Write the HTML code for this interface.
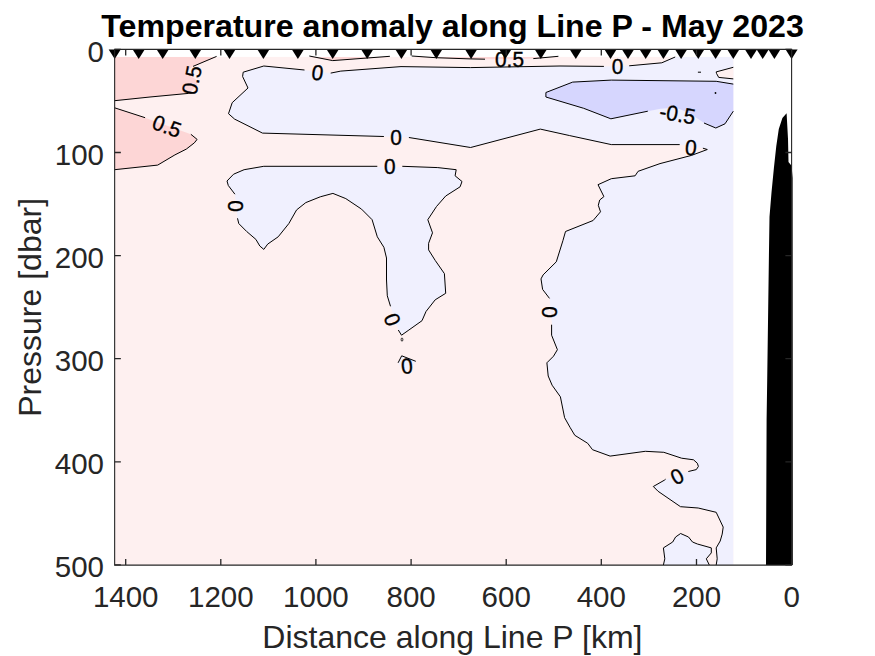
<!DOCTYPE html>
<html><head><meta charset="utf-8"><style>
html,body{margin:0;padding:0;background:#fff;overflow:hidden}
svg{display:block}
text{font-family:"Liberation Sans",sans-serif}
.tk{font-size:29.5px;fill:#262626}
.lab{font-size:32px;fill:#262626}
.ttl{font-size:32.15px;font-weight:bold;fill:#000}
.cl{font-size:21.5px;fill:#000;stroke:#000;stroke-width:0.35px;text-anchor:middle;dominant-baseline:central}
</style></head><body>
<svg width="875" height="656" viewBox="0 0 875 656">
<rect width="875" height="656" fill="#fff"/>
<rect x="114.6" y="56.9" width="618.7" height="508.1" fill="#FEF0F0"/>
<polygon points="398.1,362.8 401.7,355.8 415.8,361.3 411.0,369.0 402.0,370.0" fill="#F0F0FE"/>
<polygon points="114.6,56.9 216.6,56.9 193.0,66.4 184.7,72.4 195.7,79.2 197.5,85.2 188.4,93.4 150.0,97.0 114.6,100.7" fill="#FDD6D6"/>
<polygon points="114.6,107.8 145.1,117.7 190.9,134.3 197.1,139.4 194.3,142.9 186.3,149.1 174.9,154.9 157.7,165.1 114.6,169.7" fill="#FDD6D6"/>
<polygon points="309.3,56.9 332.7,60.6 389.9,56.9" fill="#FDD6D6"/>
<polygon points="411.7,56.9 435.7,57.7 470.0,58.9 485.0,59.2 510.0,59.2 533.3,58.6 558.4,56.9" fill="#FDD6D6"/>
<polygon points="263.8,66.0 304.5,70.0 317.0,72.0 330.7,73.1 340.8,71.1 401.0,66.6 470.4,67.6 560.0,66.0 603.9,66.4 629.2,65.8 661.8,62.8 675.2,56.9 733.3,56.9 733.3,565.0 716.2,565.0 717.2,558.8 716.2,547.9 720.2,541.0 722.2,534.1 723.2,527.1 716.2,512.3 698.2,508.0 680.5,506.7 658.1,491.3 653.3,486.5 664.5,480.1 688.3,471.5 696.3,469.6 698.4,466.4 697.3,463.2 693.5,459.8 681.6,458.2 663.8,452.3 645.3,451.3 610.1,456.1 592.5,449.7 587.7,443.3 574.8,435.3 570.0,427.3 564.6,417.7 560.4,396.8 552.1,385.2 548.2,376.0 546.9,362.8 553.5,356.2 557.4,349.7 551.6,335.2 552.1,324.7 549.5,298.4 542.6,289.4 541.0,278.9 543.1,274.9 556.3,261.8 562.9,240.7 565.5,231.5 593.1,220.5 600.5,211.8 598.3,205.3 599.7,200.0 603.9,196.6 598.0,184.7 611.3,178.7 635.1,175.8 638.1,171.3 660.0,163.6 691.5,155.4 707.3,149.5 702.9,148.2 679.7,144.6 611.3,144.6 569.7,135.6 540.3,129.1 470.6,147.5 408.9,137.5 383.9,136.5 262.5,133.1 234.6,119.1 228.5,113.7 232.2,102.7 248.0,88.0 242.6,76.5 243.2,72.2" fill="#F0F0FE"/>
<polygon points="263.8,166.3 437.8,167.6 456.2,169.7 455.1,175.8 462.0,181.5 460.1,186.8 445.7,196.0 436.5,206.5 427.8,219.7 432.5,232.8 428.6,243.3 428.6,249.9 435.2,260.4 444.4,273.6 445.7,293.3 435.2,299.8 426.0,311.5 422.0,320.7 408.9,330.0 401.5,335.2 398.3,330.0 390.5,306.3 387.3,295.8 386.5,280.0 386.5,258.0 383.9,247.3 377.3,236.8 372.1,219.7 361.5,209.1 345.8,198.6 332.9,193.4 320.3,196.8 305.8,202.6 296.6,209.9 288.8,223.6 278.2,236.8 267.7,244.1 263.8,249.4 259.8,246.0 255.9,239.4 246.7,231.5 238.8,223.6 237.5,218.3 234.9,194.2 228.3,185.5 227.0,181.0 233.6,174.2 244.1,169.7" fill="#F0F0FE"/>
<polygon points="663.4,565.0 664.8,558.8 663.4,547.9 672.7,542.0 675.6,537.0 680.6,533.5 688.5,537.0 692.5,542.0 697.4,544.0 711.3,547.9 711.3,552.9 706.3,558.8 709.3,565.0" fill="#F0F0FE"/>
<polygon points="545.9,92.5 572.7,82.1 611.3,80.1 716.2,81.3 733.3,84.1 733.3,111.2 725.0,123.8 715.8,128.0 704.0,123.0 690.6,113.8 678.9,108.7 670.5,107.9 660.4,108.7 647.8,111.2 610.9,118.8 583.7,108.3 545.9,97.0" fill="#D6D6FE"/>
<polygon points="733.3,67.3 716.2,71.9 716.5,73.4 718.7,77.4 733.3,78.9" fill="#FEF0F0"/>
<polygon points="766.0,565.0 766.6,420.0 767.2,380.0 769.0,250.0 769.5,216.8 771.5,192.4 773.9,168.0 776.3,146.0 778.8,129.0 782.4,118.0 786.6,113.2 788.0,138.8 788.5,162.0 790.5,164.4 791.6,166.0 792.6,178.0 792.8,565.0" fill="#000"/>
<ellipse cx="715.5" cy="93" rx="0.9" ry="0.9" fill="#000"/>
<ellipse cx="402" cy="339.6" rx="0.9" ry="1.6" fill="none" stroke="#000" stroke-width="0.8"/>
<polyline points="216.6,56.4 193.0,66.4" fill="none" stroke="#000" stroke-width="1" stroke-linejoin="round"/>
<polyline points="188.4,93.4 150.0,97.0 114.6,100.7" fill="none" stroke="#000" stroke-width="1" stroke-linejoin="round"/>
<polyline points="114.6,107.8 145.1,117.7" fill="none" stroke="#000" stroke-width="1" stroke-linejoin="round"/>
<polyline points="190.9,134.3 197.1,139.4 194.3,142.9 186.3,149.1 174.9,154.9 157.7,165.1 114.6,169.7" fill="none" stroke="#000" stroke-width="1" stroke-linejoin="round"/>
<polyline points="309.3,56.0 332.7,60.6 389.9,56.3" fill="none" stroke="#000" stroke-width="1" stroke-linejoin="round"/>
<polyline points="411.7,56.0 435.7,57.7 470.0,58.9 485.0,59.2" fill="none" stroke="#000" stroke-width="1" stroke-linejoin="round"/>
<polyline points="533.3,58.6 558.4,56.3" fill="none" stroke="#000" stroke-width="1" stroke-linejoin="round"/>
<polyline points="243.2,72.2 242.6,76.5 248.0,88.0 232.2,102.7 228.5,113.7 234.6,119.1 262.5,133.1 383.9,136.5" fill="none" stroke="#000" stroke-width="1" stroke-linejoin="round"/>
<polyline points="408.9,137.5 470.6,147.5 540.3,129.1 569.7,135.6 611.3,144.6 679.7,144.6" fill="none" stroke="#000" stroke-width="1" stroke-linejoin="round"/>
<polyline points="702.9,148.2 707.3,149.5 691.5,155.4 660.0,163.6 638.1,171.3 635.1,175.8 611.3,178.7 598.0,184.7 603.9,196.6 599.7,200.0 598.3,205.3 600.5,211.8 593.1,220.5 565.5,231.5 562.9,240.7 556.3,261.8 543.1,274.9 541.0,278.9 542.6,289.4 549.5,298.4" fill="none" stroke="#000" stroke-width="1" stroke-linejoin="round"/>
<polyline points="551.6,324.7 551.6,335.2 557.4,349.7 553.5,356.2 546.9,362.8 548.2,376.0 552.1,385.2 560.4,396.8 564.6,417.7 570.0,427.3 574.8,435.3 587.7,443.3 592.5,449.7 610.1,456.1 645.3,451.3 663.8,452.3 681.6,458.2 693.5,459.8 697.3,463.2 698.4,466.4 696.3,469.6 688.3,471.5" fill="none" stroke="#000" stroke-width="1" stroke-linejoin="round"/>
<polyline points="665.6,479.2 664.5,480.1 653.3,486.5 658.1,491.3 680.5,506.7 698.2,508.0 716.2,512.3 723.2,527.1 722.2,534.1 720.2,541.0 716.2,547.9 717.2,558.8 716.2,565.0" fill="none" stroke="#000" stroke-width="1" stroke-linejoin="round"/>
<polyline points="243.2,72.2 263.8,66.0 304.5,70.0" fill="none" stroke="#000" stroke-width="1" stroke-linejoin="round"/>
<polyline points="330.7,73.1 340.8,71.1 401.0,66.6 470.4,67.6 560.0,66.0 603.9,66.4" fill="none" stroke="#000" stroke-width="1" stroke-linejoin="round"/>
<polyline points="629.2,65.8 661.8,62.8 675.2,57.0" fill="none" stroke="#000" stroke-width="1" stroke-linejoin="round"/>
<polyline points="263.8,166.3 377.3,166.3" fill="none" stroke="#000" stroke-width="1" stroke-linejoin="round"/>
<polyline points="402.3,166.3 437.8,167.6 456.2,169.7 455.1,175.8 462.0,181.5 460.1,186.8 445.7,196.0 436.5,206.5 427.8,219.7 432.5,232.8 428.6,243.3 428.6,249.9 435.2,260.4 444.4,273.6 445.7,293.3 435.2,299.8 426.0,311.5 422.0,320.7 408.9,330.0 401.5,335.2 398.3,330.0" fill="none" stroke="#000" stroke-width="1" stroke-linejoin="round"/>
<polyline points="390.5,306.3 387.3,295.8 386.5,280.0 386.5,258.0 383.9,247.3 377.3,236.8 372.1,219.7 361.5,209.1 345.8,198.6 332.9,193.4 320.3,196.8 305.8,202.6 296.6,209.9 288.8,223.6 278.2,236.8 267.7,244.1 263.8,249.4 259.8,246.0 255.9,239.4 246.7,231.5 238.8,223.6 237.5,218.3" fill="none" stroke="#000" stroke-width="1" stroke-linejoin="round"/>
<polyline points="234.9,194.2 228.3,185.5 227.0,181.0 233.6,174.2 244.1,169.7 263.8,166.3" fill="none" stroke="#000" stroke-width="1" stroke-linejoin="round"/>
<polyline points="663.4,565.0 664.8,558.8 663.4,547.9 672.7,542.0 675.6,537.0 680.6,533.5 688.5,537.0 692.5,542.0 697.4,544.0 711.3,547.9 711.3,552.9 706.3,558.8 709.3,565.0" fill="none" stroke="#000" stroke-width="1" stroke-linejoin="round"/>
<polyline points="733.3,84.1 716.2,81.3 611.3,80.1 572.7,82.1 545.9,92.5 545.9,97.0 583.7,108.3 610.9,118.8 647.8,111.2" fill="none" stroke="#000" stroke-width="1" stroke-linejoin="round"/>
<polyline points="704.0,123.0 715.8,128.0 725.0,123.8 733.3,111.2" fill="none" stroke="#000" stroke-width="1" stroke-linejoin="round"/>
<polyline points="733.3,67.3 716.2,71.9 716.5,73.4 718.7,77.4 733.3,78.9" fill="none" stroke="#000" stroke-width="1" stroke-linejoin="round"/>
<polyline points="697.9,72.2 701.0,72.2" fill="none" stroke="#000" stroke-width="1" stroke-linejoin="round"/>
<polyline points="398.1,362.8 401.7,355.8 415.8,361.3" fill="none" stroke="#000" stroke-width="1" stroke-linejoin="round"/>
<text transform="translate(191.6,80.1) rotate(-79) scale(0.97,1.0)" class="cl">0.5</text>
<text transform="translate(167.0,126.0) rotate(20) scale(0.97,1.0)" class="cl">0.5</text>
<text transform="translate(317.5,72.5) rotate(8) scale(0.97,1.0)" class="cl">0</text>
<text transform="translate(509.5,59.5) rotate(0) scale(0.97,1.0)" class="cl">0.5</text>
<text transform="translate(617.6,66.5) rotate(0) scale(0.97,1.0)" class="cl">0</text>
<text transform="translate(677.5,114.0) rotate(10) scale(0.97,1.0)" class="cl">-0.5</text>
<text transform="translate(396.0,137.7) rotate(0) scale(0.97,1.0)" class="cl">0</text>
<text transform="translate(389.9,166.4) rotate(0) scale(0.97,1.0)" class="cl">0</text>
<text transform="translate(690.9,147.3) rotate(5) scale(0.97,1.0)" class="cl">0</text>
<text transform="translate(235.5,206.0) rotate(90) scale(0.97,1.0)" class="cl">0</text>
<text transform="translate(392.5,319.5) rotate(70) scale(0.97,1.0)" class="cl">0</text>
<text transform="translate(406.9,365.8) rotate(-5) scale(0.97,1.0)" class="cl">0</text>
<text transform="translate(550.0,312.0) rotate(90) scale(0.97,1.0)" class="cl">0</text>
<text transform="translate(677.1,476.3) rotate(-28) scale(0.97,1.0)" class="cl">0</text>
<polygon points="108.7,49.4 120.7,49.4 114.7,59.1" fill="#000"/>
<polygon points="132.7,49.4 144.7,49.4 138.7,59.1" fill="#000"/>
<polygon points="156.7,49.4 168.7,49.4 162.7,59.1" fill="#000"/>
<polygon points="189.3,49.4 201.3,49.4 195.3,59.1" fill="#000"/>
<polygon points="223.5,49.4 235.5,49.4 229.5,59.1" fill="#000"/>
<polygon points="257.4,49.4 269.4,49.4 263.4,59.1" fill="#000"/>
<polygon points="291.9,49.4 303.9,49.4 297.9,59.1" fill="#000"/>
<polygon points="326.7,49.4 338.7,49.4 332.7,59.1" fill="#000"/>
<polygon points="361.2,49.4 373.2,49.4 367.2,59.1" fill="#000"/>
<polygon points="395.4,49.4 407.4,49.4 401.4,59.1" fill="#000"/>
<polygon points="430.3,49.4 442.3,49.4 436.3,59.1" fill="#000"/>
<polygon points="465.1,49.4 477.1,49.4 471.1,59.1" fill="#000"/>
<polygon points="499.3,49.4 511.3,49.4 505.3,59.1" fill="#000"/>
<polygon points="534.8,49.4 546.8,49.4 540.8,59.1" fill="#000"/>
<polygon points="569.8,49.4 581.8,49.4 575.8,59.1" fill="#000"/>
<polygon points="604.5,49.4 616.5,49.4 610.5,59.1" fill="#000"/>
<polygon points="622.0,49.4 634.0,49.4 628.0,59.1" fill="#000"/>
<polygon points="639.7,49.4 651.7,49.4 645.7,59.1" fill="#000"/>
<polygon points="657.4,49.4 669.4,49.4 663.4,59.1" fill="#000"/>
<polygon points="675.1,49.4 687.1,49.4 681.1,59.1" fill="#000"/>
<polygon points="692.3,49.4 704.3,49.4 698.3,59.1" fill="#000"/>
<polygon points="709.6,49.4 721.6,49.4 715.6,59.1" fill="#000"/>
<polygon points="727.3,49.4 739.3,49.4 733.3,59.1" fill="#000"/>
<polygon points="745.0,49.4 757.0,49.4 751.0,59.1" fill="#000"/>
<polygon points="756.7,49.4 768.7,49.4 762.7,59.1" fill="#000"/>
<polygon points="768.4,49.4 780.4,49.4 774.4,59.1" fill="#000"/>
<polygon points="785.6,49.4 797.6,49.4 791.6,59.1" fill="#000"/>
<path d="M114.65,565.1 V49.4 H791.6 V565.1 Z" fill="none" stroke="#262626" stroke-width="1.1"/>
<path d="M791.6,565.1v-6.2M791.6,49.4v6.2M696.5,565.1v-6.2M696.5,49.4v6.2M601.3,565.1v-6.2M601.3,49.4v6.2M506.2,565.1v-6.2M506.2,49.4v6.2M411.1,565.1v-6.2M411.1,49.4v6.2M315.9,565.1v-6.2M315.9,49.4v6.2M220.8,565.1v-6.2M220.8,49.4v6.2M125.7,565.1v-6.2M125.7,49.4v6.2M114.65,49.4h6.2M791.6,49.4h-6.2M114.65,152.5h6.2M791.6,152.5h-6.2M114.65,255.6h6.2M791.6,255.6h-6.2M114.65,358.7h6.2M791.6,358.7h-6.2M114.65,461.8h6.2M791.6,461.8h-6.2M114.65,564.9h6.2M791.6,564.9h-6.2" stroke="#262626" stroke-width="1.3" fill="none"/>
<text x="0" y="0" transform="translate(791.6,607.0)" class="tk" text-anchor="middle">0</text>
<text x="0" y="0" transform="translate(696.5,607.0)" class="tk" text-anchor="middle">200</text>
<text x="0" y="0" transform="translate(601.3,607.0)" class="tk" text-anchor="middle">400</text>
<text x="0" y="0" transform="translate(506.2,607.0)" class="tk" text-anchor="middle">600</text>
<text x="0" y="0" transform="translate(411.1,607.0)" class="tk" text-anchor="middle">800</text>
<text x="0" y="0" transform="translate(315.9,607.0)" class="tk" text-anchor="middle">1000</text>
<text x="0" y="0" transform="translate(220.8,607.0)" class="tk" text-anchor="middle">1200</text>
<text x="0" y="0" transform="translate(125.7,607.0)" class="tk" text-anchor="middle">1400</text>
<text transform="translate(104.0,61.7)" class="tk" text-anchor="end">0</text>
<text transform="translate(104.0,164.8)" class="tk" text-anchor="end">100</text>
<text transform="translate(104.0,267.9)" class="tk" text-anchor="end">200</text>
<text transform="translate(104.0,371.0)" class="tk" text-anchor="end">300</text>
<text transform="translate(104.0,474.1)" class="tk" text-anchor="end">400</text>
<text transform="translate(104.0,577.2)" class="tk" text-anchor="end">500</text>
<text x="452.4" y="648.2" class="lab" text-anchor="middle">Distance along Line P [km]</text>
<text transform="translate(40.9,307.35) rotate(-90)" class="lab" text-anchor="middle">Pressure [dbar]</text>
<text x="452.6" y="37.2" class="ttl" text-anchor="middle">Temperature anomaly along Line P - May 2023</text>
</svg>
</body></html>
